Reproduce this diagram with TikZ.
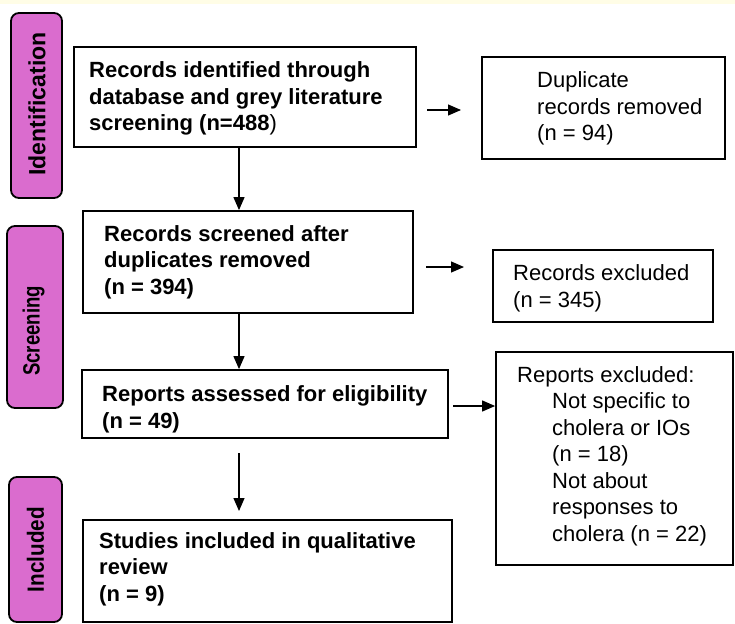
\documentclass[tikz,border=0pt]{standalone}
\usepackage{fontspec}
\setmainfont{Liberation Sans}
\usetikzlibrary{arrows.meta,calc}
\definecolor{pillc}{RGB}{218,108,206}
\definecolor{topband}{RGB}{255,253,230}
\begin{document}
\begin{tikzpicture}[x=1pt,y=-1pt,
  boxnode/.style={draw=black,line width=1.8pt,fill=white,inner sep=0pt},
  txtb/.style={font=\fontsize{22}{26.5}\selectfont\bfseries,align=left,inner sep=0pt,anchor=west},
  txtr/.style={font=\fontsize{22}{26.5}\selectfont,align=left,inner sep=0pt,anchor=west},
  pill/.style={draw=black,line width=1.8pt,fill=pillc,rounded corners=8pt,inner sep=0pt},
  pilltxt/.style={rotate=90,font=\fontsize{23.5}{28}\selectfont\bfseries,inner sep=0pt},
  arr/.style={-{Triangle[length=13pt,width=11pt]},line width=1.2pt}]
\useasboundingbox (0,0) rectangle (735,623);
\fill[white] (0,0) rectangle (735,623);
\fill[topband] (0,0) rectangle (735,4);

% phase pills
\node[pill,minimum width=51pt,minimum height=185pt] (p1) at (36.5,105.5) {};
\node[pilltxt] (l1) at (37,104) {\scalebox{0.98}[1]{Identification}};
\node[pill,minimum width=56pt,minimum height=182pt] (p2) at (35,317) {};
\node[pilltxt] (l2) at (33.5,331) {\scalebox{0.79}[1]{Screening}};
\node[pill,minimum width=53pt,minimum height=145pt] (p3) at (35.5,549.5) {};
\node[pilltxt] (l3) at (35.5,549.5) {\scalebox{0.88}[1]{Included}};

% main boxes
\node[boxnode,minimum width=342pt,minimum height=100pt] (b1) at (245,97) {};
\node[txtb] (t1) at (89,98.5) {Records identified through\\database and grey literature\\screening (n=488{\mdseries)}};
\node[boxnode,minimum width=330pt,minimum height=102pt] (b2) at (248,262) {};
\node[txtb] (t2) at (104,262) {Records screened after\\duplicates removed\\(n = 394)};
\node[boxnode,minimum width=366pt,minimum height=68pt] (b3) at (265,404) {};
\node[txtb] (t3) at (102,409.5) {Reports assessed for eligibility\\(n = 49)};
\node[boxnode,minimum width=369pt,minimum height=102pt] (b4) at (267.5,571) {};
\node[txtb] (t4) at (99,569) {Studies included in qualitative\\review\\(n = 9)};

% side boxes
\node[boxnode,minimum width=243pt,minimum height=102pt] (dup) at (603.5,108) {};
\node[txtr] (td) at (537,108.5) {Duplicate\\records removed\\(n = 94)};
\node[boxnode,minimum width=220pt,minimum height=72pt] (ex) at (603,286) {};
\node[txtr] (te) at (513,288.5) {Records excluded\\(n = 345)};
\node[boxnode,minimum width=237pt,minimum height=213pt] (rx) at (614.5,458.5) {};
\node[txtr] (tr) at (517,456) {Reports excluded:\\\hspace*{35pt}Not specific to\\\hspace*{35pt}cholera or IOs\\\hspace*{35pt}(n = 18)\\\hspace*{35pt}Not about\\\hspace*{35pt}responses to\\\hspace*{35pt}cholera (n = 22)};

% vertical connectors
\coordinate (ax) at (239,0);
\draw[arr] (b1.south -| ax) -- (b2.north -| ax);
\draw[arr] (b2.south -| ax) -- (b3.north -| ax);
\coordinate (c3s) at (239,453);
\coordinate (c3e) at (239,511);
\draw[arr] (c3s) -- (c3e);

% horizontal connectors
\coordinate (h1s) at (427,110);
\coordinate (h1e) at (461,110);
\draw[arr] (h1s) -- (h1e);
\coordinate (h2s) at (426,267);
\coordinate (h2e) at (464,267);
\draw[arr] (h2s) -- (h2e);
\coordinate (h3s) at (453,406);
\draw[arr] (h3s) -- (rx.west |- h3s);
\end{tikzpicture}
\end{document}
